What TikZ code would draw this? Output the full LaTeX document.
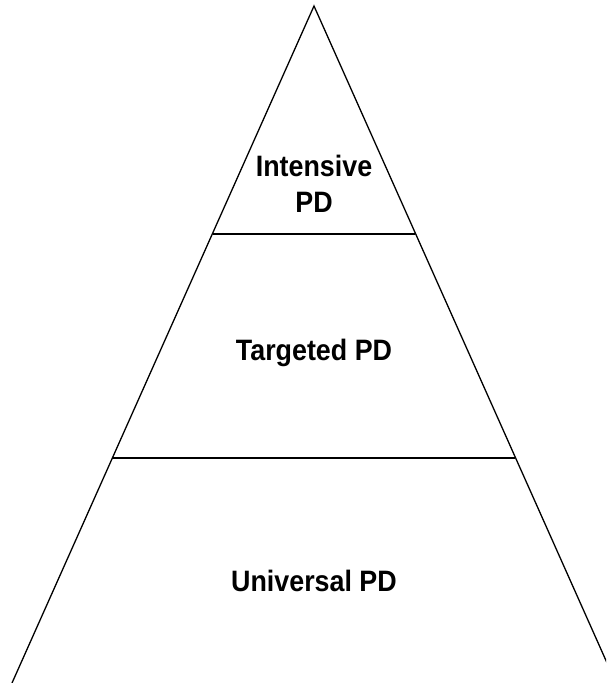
\documentclass[tikz,border=0pt]{standalone}
\usepackage{fontspec}
\setmainfont{Liberation Sans}
\tikzset{
  tier/.style={font=\fontsize{29.5}{36}\selectfont\bfseries, xscale=0.91, align=center, inner sep=0pt},
  edge/.style={line width=1.3pt, black}
}

\begin{document}
\begin{tikzpicture}[x=1pt,y=-1pt]
\useasboundingbox (0,0) rectangle (606,683);
\clip (0,0) rectangle (606,683);
\coordinate (apex) at (314,6);
\coordinate (bl) at (12,683);
\coordinate (br) at (616,683);
\coordinate (l1) at (213,234);
\coordinate (r1) at (415,234);
\coordinate (l2) at (113,458);
\coordinate (r2) at (515,458);
\draw[edge] (bl) -- (apex) -- (br);
\draw[edge] (l1) -- (r1);
\draw[edge] (l2) -- (r2);
\node[tier] (intensive) at (314,184) {Intensive\\PD};
\node[tier] (targeted) at (314,353) {Targeted PD};
\node[tier] (universal) at (314,581) {Universal PD};
\end{tikzpicture}
\end{document}
